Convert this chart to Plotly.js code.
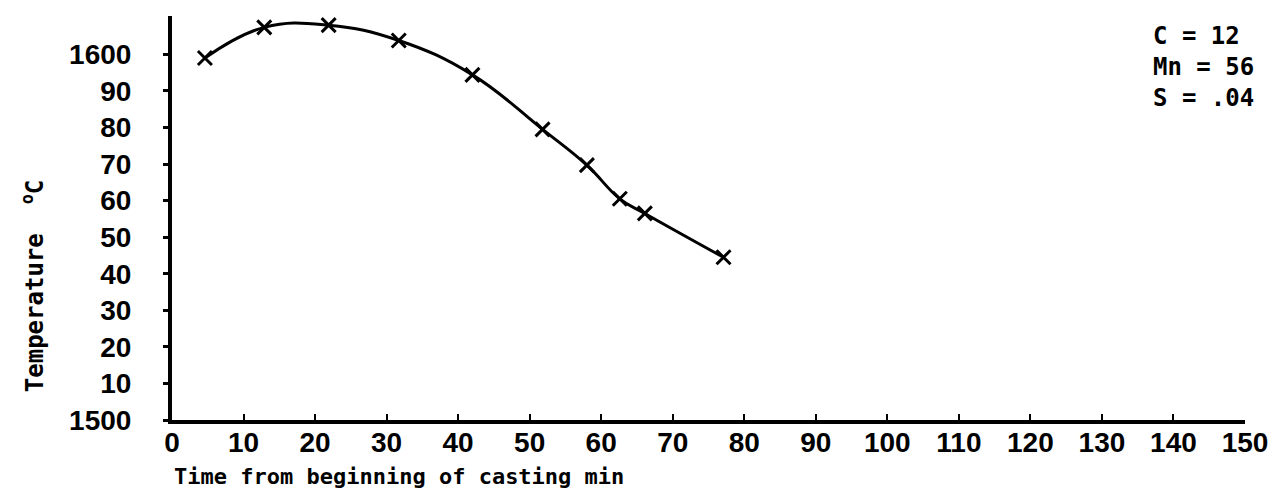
<!DOCTYPE html>
<html>
<head>
<meta charset="utf-8">
<script src="https://cdn.plot.ly/plotly-3.0.1.min.js"></script>
<style>html,body{margin:0;padding:0;background:#fff;}#chart{width:1281px;height:493px;}</style>
</head>
<body>
<div id="chart"></div>
<script>
// Time from beginning of casting (min)
var timeMin = [4.6, 12.9, 21.9, 31.7, 42.0, 51.8, 58.0, 62.6, 66.1, 77.1];
// Temperature (°C)
var tempC = [1599, 1607.4, 1608, 1603.8, 1594.4, 1579.5, 1569.7, 1560.5, 1556.5, 1544.5];

var xTicks = [0, 10, 20, 30, 40, 50, 60, 70, 80, 90, 100, 110, 120, 130, 140, 150];
var yTickVals = [1500, 1510, 1520, 1530, 1540, 1550, 1560, 1570, 1580, 1590, 1600];
var yTickText = ['1500', '10', '20', '30', '40', '50', '60', '70', '80', '90', '1600'];
var noteLines = ['C = 12', 'Mn = 56', 'S = .04'];
var xTitle = 'Time from beginning of casting min';
var yTitle = 'Temperature  <sup>o</sup>C';

var numFont = {family: 'Liberation Sans Narrow, Arial Narrow, sans-serif', size: 28, color: '#000', weight: 'bold'};
var monoFont = {family: 'DejaVu Sans Mono, monospace', size: 22, color: '#000', weight: 'bold'};

var trace = {
  x: timeMin, y: tempC, type: 'scatter', mode: 'lines+markers',
  line: {color: '#000', width: 3, shape: 'spline', smoothing: 1.2},
  marker: {symbol: 'x-thin-open', size: 14, line: {color: '#000', width: 3}, color: '#000'},
  hoverinfo: 'skip'
};

var layout = {
  width: 1281, height: 493,
  margin: {l: 172, r: 36, t: 16, b: 73},
  paper_bgcolor: '#fff', plot_bgcolor: '#fff',
  showlegend: false,
  xaxis: {
    range: [0, 150], tickvals: xTicks, ticktext: xTicks.map(String),
    showgrid: false, zeroline: false, showline: true, linecolor: '#000', linewidth: 4,
    ticks: 'inside', ticklen: 6, tickwidth: 2, tickcolor: '#000',
    tickfont: numFont, ticklabelstandoff: -6,
    automargin: false
  },
  yaxis: {
    range: [1500, 1610.5], tickvals: yTickVals, ticktext: yTickText,
    showgrid: false, zeroline: false, showline: true, linecolor: '#000', linewidth: 4,
    ticks: 'outside', ticklen: 5, tickwidth: 3, tickcolor: '#000',
    tickfont: numFont, ticklabelstandoff: 26,
    automargin: false
  },
  annotations: [
    {
      xref: 'paper', yref: 'paper', x: 0.912, y: 0.99, xanchor: 'left', yanchor: 'top',
      align: 'left', showarrow: false,
      text: noteLines.join('<br>'),
      font: {family: 'DejaVu Sans Mono, monospace', size: 24, color: '#000', weight: 'bold'}
    },
    {
      xref: 'paper', yref: 'paper', x: 0, y: -0.14, xanchor: 'left', yanchor: 'middle',
      showarrow: false, text: xTitle, font: monoFont
    },
    {
      xref: 'paper', yref: 'paper', x: -0.13, xanchor: 'center', y: 0.33, yanchor: 'middle',
      showarrow: false, textangle: -90, text: yTitle,
      font: {family: 'DejaVu Sans Mono, monospace', size: 24, color: '#000', weight: 'bold'}
    }
  ]
};

Plotly.newPlot('chart', [trace], layout, {displayModeBar: false, staticPlot: true});
</script>
</body>
</html>
